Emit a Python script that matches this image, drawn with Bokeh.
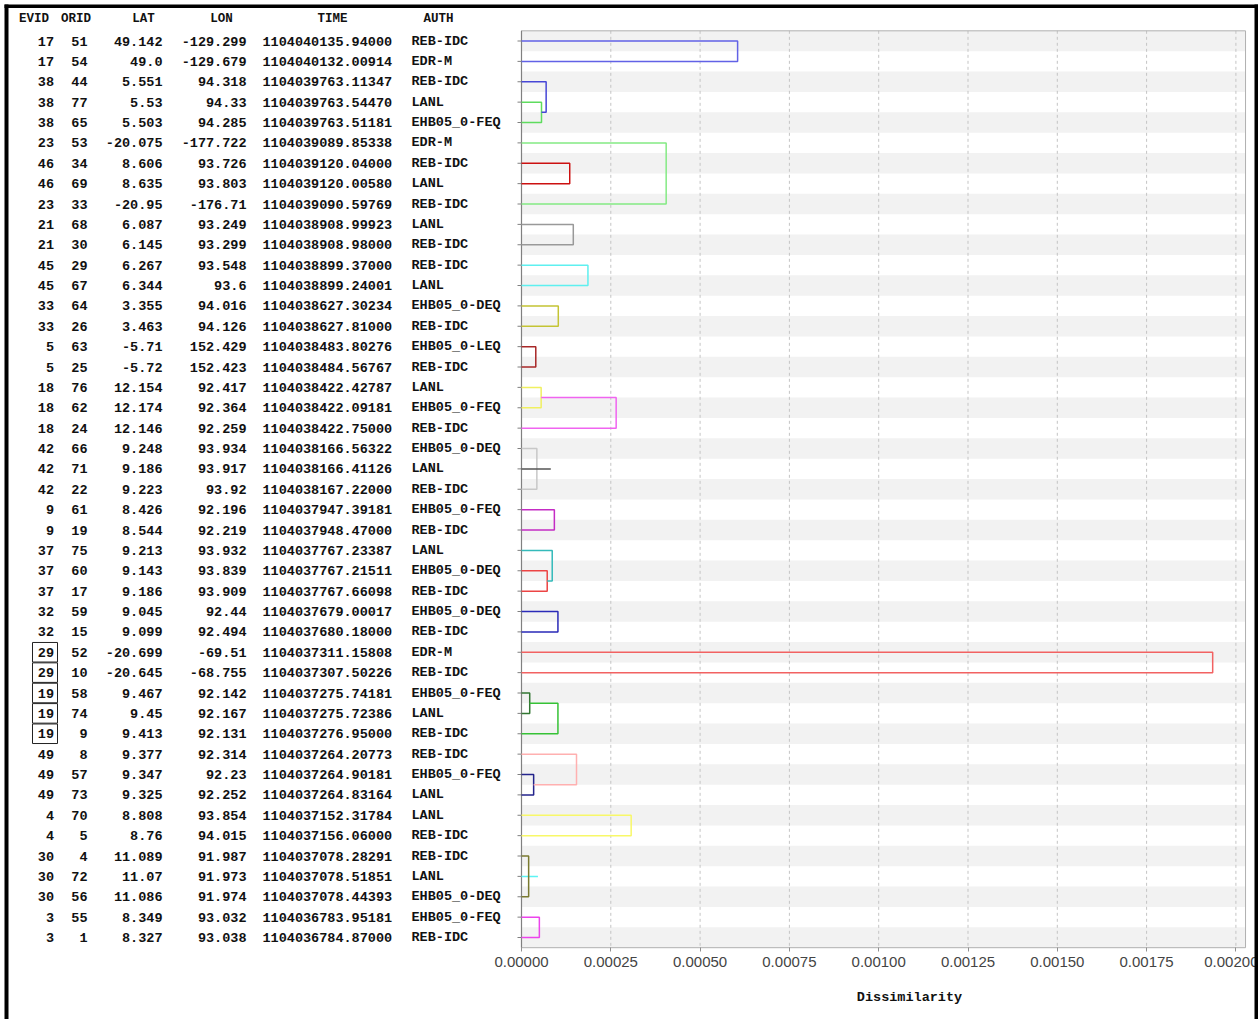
from bokeh.plotting import figure
from bokeh.models import Range1d, LinearAxis, FixedTicker, NumeralTickFormatter, BoxAnnotation
from bokeh.core.properties import value
from bokeh.embed import file_html
from bokeh.resources import INLINE

# ---------------- data ----------------
columns = ["EVID", "ORID", "LAT", "LON", "TIME", "AUTH"]
evid = [17, 17, 38, 38, 38, 23, 46, 46, 23, 21, 21, 45, 45, 33, 33, 5, 5, 18, 18, 18, 42, 42, 42,
        9, 9, 37, 37, 37, 32, 32, 29, 29, 19, 19, 19, 49, 49, 49, 4, 4, 30, 30, 30, 3, 3]
orid = [51, 54, 44, 77, 65, 53, 34, 69, 33, 68, 30, 29, 67, 64, 26, 63, 25, 76, 62, 24, 66, 71, 22,
        61, 19, 75, 60, 17, 59, 15, 52, 10, 58, 74, 9, 8, 57, 73, 70, 5, 4, 72, 56, 55, 1]
lat = [49.142, 49.0, 5.551, 5.53, 5.503, -20.075, 8.606, 8.635, -20.95, 6.087, 6.145, 6.267, 6.344,
       3.355, 3.463, -5.71, -5.72, 12.154, 12.174, 12.146, 9.248, 9.186, 9.223, 8.426, 8.544, 9.213,
       9.143, 9.186, 9.045, 9.099, -20.699, -20.645, 9.467, 9.45, 9.413, 9.377, 9.347, 9.325, 8.808,
       8.76, 11.089, 11.07, 11.086, 8.349, 8.327]
lon = [-129.299, -129.679, 94.318, 94.33, 94.285, -177.722, 93.726, 93.803, -176.71, 93.249, 93.299,
       93.548, 93.6, 94.016, 94.126, 152.429, 152.423, 92.417, 92.364, 92.259, 93.934, 93.917, 93.92,
       92.196, 92.219, 93.932, 93.839, 93.909, 92.44, 92.494, -69.51, -68.755, 92.142, 92.167, 92.131,
       92.314, 92.23, 92.252, 93.854, 94.015, 91.987, 91.973, 91.974, 93.032, 93.038]
time = ["1104040135.94000", "1104040132.00914", "1104039763.11347", "1104039763.54470",
        "1104039763.51181", "1104039089.85338", "1104039120.04000", "1104039120.00580",
        "1104039090.59769", "1104038908.99923", "1104038908.98000", "1104038899.37000",
        "1104038899.24001", "1104038627.30234", "1104038627.81000", "1104038483.80276",
        "1104038484.56767", "1104038422.42787", "1104038422.09181", "1104038422.75000",
        "1104038166.56322", "1104038166.41126", "1104038167.22000", "1104037947.39181",
        "1104037948.47000", "1104037767.23387", "1104037767.21511", "1104037767.66098",
        "1104037679.00017", "1104037680.18000", "1104037311.15808", "1104037307.50226",
        "1104037275.74181", "1104037275.72386", "1104037276.95000", "1104037264.20773",
        "1104037264.90181", "1104037264.83164", "1104037152.31784", "1104037156.06000",
        "1104037078.28291", "1104037078.51851", "1104037078.44393", "1104036783.95181",
        "1104036784.87000"]
auth = ["REB-IDC", "EDR-M", "REB-IDC", "LANL", "EHB05_0-FEQ", "EDR-M", "REB-IDC", "LANL", "REB-IDC",
        "LANL", "REB-IDC", "REB-IDC", "LANL", "EHB05_0-DEQ", "REB-IDC", "EHB05_0-LEQ", "REB-IDC",
        "LANL", "EHB05_0-FEQ", "REB-IDC", "EHB05_0-DEQ", "LANL", "REB-IDC", "EHB05_0-FEQ", "REB-IDC",
        "LANL", "EHB05_0-DEQ", "REB-IDC", "EHB05_0-DEQ", "REB-IDC", "EDR-M", "REB-IDC", "EHB05_0-FEQ",
        "LANL", "REB-IDC", "REB-IDC", "EHB05_0-FEQ", "LANL", "LANL", "REB-IDC", "REB-IDC", "LANL",
        "EHB05_0-DEQ", "EHB05_0-FEQ", "REB-IDC"]
boxed_evids = [29, 19]

# dendrogram links (row positions, merge heights, heights of the joined children)
link_top = [0, 3, 2, 6, 5, 9, 11, 13, 15, 17, 17.5, 20, 21, 23, 26, 25, 28, 30, 32, 32.5, 36, 35,
            38, 41, 40, 43]
link_bottom = [1, 4, 3.5, 7, 8, 10, 12, 14, 16, 18, 19, 22, 21, 24, 27, 26.5, 29, 31, 33, 34, 37,
               36.5, 39, 41, 42, 44]
link_height = [0.000605, 0.000056, 0.000069, 0.000135, 0.000405, 0.000145, 0.000186, 0.000103,
               0.000040, 0.000055, 0.000265, 0.000043, 0.000082, 0.000092, 0.000072, 0.000086,
               0.000102, 0.001935, 0.000023, 0.000102, 0.000034, 0.000154, 0.000307, 0.000046,
               0.000020, 0.000050]
link_top_from = [0, 0, 0, 0, 0, 0, 0, 0, 0, 0, 0.000055, 0, 0, 0, 0, 0, 0, 0, 0, 0.000023, 0, 0,
                 0, 0, 0, 0]
link_bottom_from = [0, 0, 0.000056, 0, 0, 0, 0, 0, 0, 0, 0, 0, 0.000043, 0, 0, 0.000072, 0, 0, 0,
                    0, 0, 0.000034, 0, 0, 0, 0]
link_color = ["#6262e6", "#5edc5e", "#4646d6", "#cc1010", "#84ea84", "#999999", "#5ef0f0",
              "#c4c434", "#a82828", "#f0f060", "#f064f0", "#c8c8c8", "#555555", "#c42cc4",
              "#ec4444", "#34baba", "#2a2ab8", "#f26262", "#337733", "#36c236", "#24248c",
              "#ffb0b0", "#f8f868", "#5cf4f4", "#7a7a30", "#ec44ec"]

tick_values = [0.0, 0.00025, 0.0005, 0.00075, 0.001, 0.00125, 0.0015, 0.00175, 0.002]
x_label = "Dissimilarity"

# ---------------- layout constants ----------------
N = len(evid)
W, H = 1258, 1019
X0_PX = 521            # canvas px where dissimilarity 0 sits
PX_PER_UNIT = 357200.0
ROW_PX = 20.375
ROW0_PX = 40.5
X_MAX = 0.002027

x_start = -X0_PX / PX_PER_UNIT
x_end = (W - X0_PX) / PX_PER_UNIT
y_top = -ROW0_PX / ROW_PX
y_bot = y_top + H / ROW_PX

p = figure(width=W, height=H, output_backend="svg", toolbar_location=None,
           x_range=Range1d(x_start, x_end), y_range=Range1d(y_bot, y_top),
           x_axis_type=None, y_axis_type=None,
           min_border_left=0, min_border_right=0, min_border_top=0, min_border_bottom=0)
p.outline_line_color = None
p.background_fill_color = "white"
p.border_fill_color = "white"
p.extra_x_ranges = {"px": Range1d(0, W)}

rows = list(range(N))

# alternating stripes
stripe_rows = [r for r in rows if r % 2 == 0]
p.quad(left=0, right=X_MAX, top=[r - 0.5 for r in stripe_rows], bottom=[r + 0.5 for r in stripe_rows],
       fill_color="#f2f2f2", line_color=None)

# dashed vertical grid
p.segment(x0=tick_values[1:], x1=tick_values[1:], y0=-0.5, y1=N - 0.5,
          line_color="#c4c4c4", line_dash="3 3", line_width=1)

# plot-area frame
p.quad(left=0, right=X_MAX, top=-0.5, bottom=N - 0.5, fill_color=None,
       line_color="#b0b0b0", line_width=1)
p.segment(x0=0, x1=0, y0=-0.5, y1=N - 0.5, line_color="#808080", line_width=1.2)
# row ticks on the left of the dendrogram axis
p.segment(x0=X0_PX - 4, x1=X0_PX, y0=rows, y1=rows, x_range_name="px",
          line_color="#808080", line_width=1)

# dendrogram links
xs = [[a, h, h, b] for a, h, b in zip(link_top_from, link_height, link_bottom_from)]
ys = [[t, t, bt, bt] for t, bt in zip(link_top, link_bottom)]
p.multi_line(xs=xs, ys=ys, line_color=link_color, line_width=1.5)

# table text
FONT = value("Liberation Mono")
FS = "13.5px"
col_specs = [
    ([str(v) for v in evid], 53.5, "right"),
    ([str(v) for v in orid], 87, "right"),
    ([str(v) for v in lat], 162, "right"),
    ([str(v) for v in lon], 246, "right"),
    (time, 262, "left"),
    (auth, 411, "left"),
]
for texts, xpos, align in col_specs:
    p.text(x=xpos, y=rows, text=texts, x_range_name="px", text_align=align,
           text_baseline="middle", text_font=FONT, text_font_style="bold",
           text_font_size=FS, text_color="#111111")

header_x = [33.5, 75.5, 143, 221, 332, 438]
p.text(x=header_x, y=-1.104, text=columns, x_range_name="px", text_align="center",
       text_baseline="middle", text_font=FONT, text_font_style="bold",
       text_font_size="12.5px", text_color="#111111")

# boxes around selected EVID cells
box_rows = [r for r in rows if evid[r] in boxed_evids]
p.quad(left=32, right=57, top=[r - 0.48 for r in box_rows], bottom=[r + 0.48 for r in box_rows],
       x_range_name="px", fill_color=None, line_color="#222222", line_width=1)

# x-axis title
p.text(x=[909], y=[(997 - ROW0_PX) / ROW_PX], text=[x_label], x_range_name="px",
       text_align="center", text_baseline="middle", text_font=FONT, text_font_style="bold",
       text_font_size="13.5px", text_color="#111111")

# black page border
for l, r, t, b in [(4, 8, H - 4, 0),
                   (4, 1258, H - 4, H - 7.5),
                   (1254, 1258, H - 4, 0)]:
    p.add_layout(BoxAnnotation(left=l, right=r, top=t, bottom=b,
                               left_units="screen", right_units="screen",
                               top_units="screen", bottom_units="screen",
                               fill_color="black", fill_alpha=1.0, line_color=None))

# x axis, fixed at the bottom of the dendrogram area
ax = LinearAxis(ticker=FixedTicker(ticks=tick_values),
                formatter=NumeralTickFormatter(format="0.00000"),
                fixed_location=N - 0.5)
ax.axis_line_color = None
ax.major_tick_line_color = "#909090"
ax.major_tick_out = 4
ax.major_tick_in = 0
ax.minor_tick_line_color = None
ax.major_label_standoff = 5
ax.major_label_text_font = "Liberation Sans Narrow, Liberation Sans, sans-serif"
ax.major_label_text_font_size = "15px"
ax.major_label_text_color = "#444444"
p.add_layout(ax, "below")

open("out.html", "w").write(file_html(p, INLINE))
